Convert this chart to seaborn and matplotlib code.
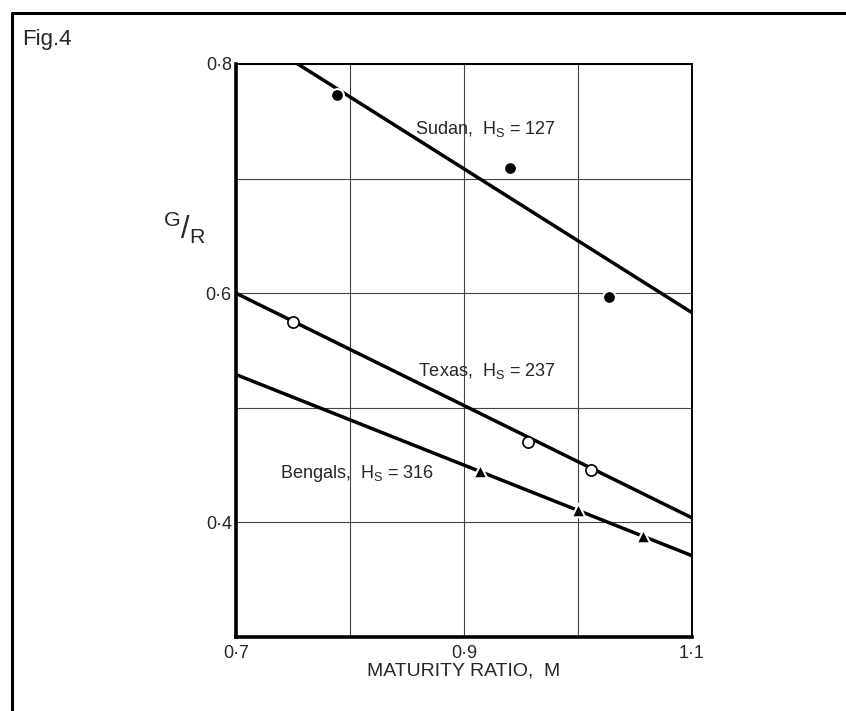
import numpy as np
import pandas as pd
import matplotlib
matplotlib.use('Agg')
import matplotlib.pyplot as plt
import seaborn as sns
from matplotlib.lines import Line2D

# data
sudan_m = [0.789, 0.940, 1.027]
sudan_gr = [0.773, 0.709, 0.597]
texas_m = [0.750, 0.956, 1.011]
texas_gr = [0.575, 0.470, 0.446]
bengals_m = [0.914, 1.000, 1.057]
bengals_gr = [0.445, 0.411, 0.388]

# fitted lines (value at M=0.7 and M=1.1)
fit_m = [0.7, 1.1]
sudan_fit = [0.834, 0.583]
texas_fit = [0.600, 0.404]
bengals_fit = [0.529, 0.371]

x_ticks = [0.7, 0.8, 0.9, 1.0, 1.1]
x_labels = ['0·7', '', '0·9', '', '1·1']
y_ticks = [0.3, 0.4, 0.5, 0.6, 0.7, 0.8]
y_labels = ['', '0·4', '', '0·6', '', '0·8']

sns.set_style('white')
plt.rcParams['font.family'] = ['Liberation Sans', 'DejaVu Sans']
plt.rcParams['mathtext.fontset'] = 'custom'
plt.rcParams['mathtext.rm'] = 'Liberation Sans'
plt.rcParams['mathtext.default'] = 'regular'

fig = plt.figure(figsize=(8.46, 7.11), dpi=100)
ax = fig.add_axes([0.279, 0.104, 0.539, 0.806])

# fitted lines
for y in [sudan_fit, texas_fit, bengals_fit]:
    sns.lineplot(x=fit_m, y=y, ax=ax, color='black', lw=2.5, zorder=3)

# data points
sns.scatterplot(x=sudan_m, y=sudan_gr, ax=ax, marker='o', s=85, color='black',
                edgecolor='white', linewidth=1.5, zorder=4)
sns.scatterplot(x=texas_m, y=texas_gr, ax=ax, marker='o', s=65, color='white',
                edgecolor='black', linewidth=1.2, zorder=4)
sns.scatterplot(x=bengals_m, y=bengals_gr, ax=ax, marker='^', s=95, color='black',
                edgecolor='white', linewidth=1.5, zorder=4)

ax.set_xlim(0.7, 1.1)
ax.set_ylim(0.3, 0.8)
ax.set_xticks(x_ticks)
ax.set_xticklabels(x_labels)
ax.set_yticks(y_ticks)
ax.set_yticklabels(y_labels)
ax.tick_params(length=0, labelsize=13)
ax.tick_params(axis='x', pad=6)
ax.tick_params(axis='y', pad=3)
ax.grid(True, color='#444444', lw=0.8)
ax.set_axisbelow(True)

for side in ['left', 'bottom']:
    ax.spines[side].set_linewidth(2.6)
for side in ['top', 'right']:
    ax.spines[side].set_linewidth(1.4)
for s in ax.spines.values():
    s.set_color('black')
    s.set_visible(True)

ax.set_xlabel('MATURITY RATIO,  M', fontsize=14, labelpad=0)
ax.set_ylabel('')
ax.text(-0.112, 0.714, r'$^{G}/_{R}$', transform=ax.transAxes, fontsize=22,
        ha='center', va='center')

ax.text(0.857, 0.739, r'Sudan,  H$_{S}$ = 127', fontsize=13, va='baseline', ha='left')
ax.text(0.860, 0.5275, r'Texas,  H$_{S}$ = 237', fontsize=13, va='baseline', ha='left')
ax.text(0.739, 0.439, r'Bengals,  H$_{S}$ = 316', fontsize=13, va='baseline', ha='left')

fig.text(22 / 846, 1 - 40 / 711, 'Fig.4', fontsize=16, ha='left', va='center')

# outer frame (left and top)
fig.add_artist(Line2D([12 / 846, 12 / 846], [0, 1 - 13 / 711], color='black', lw=2.2))
fig.add_artist(Line2D([12 / 846, 1], [1 - 13 / 711, 1 - 13 / 711], color='black', lw=2.2))

fig.savefig('out.png', dpi=100)
